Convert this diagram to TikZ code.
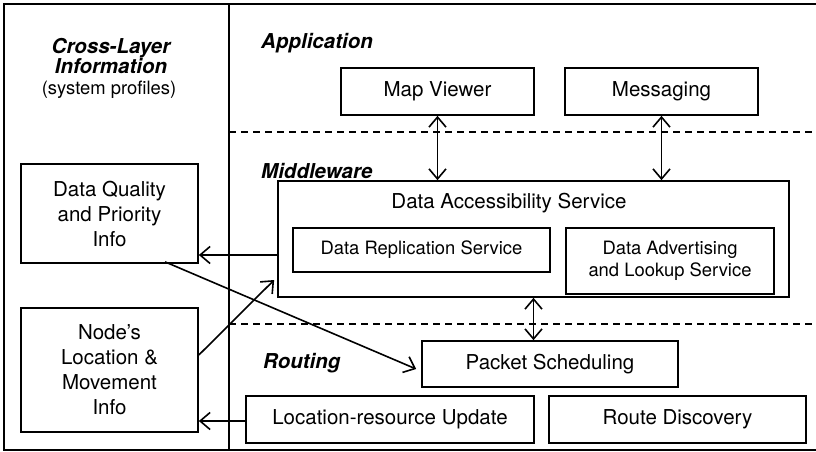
\documentclass[tikz,border=0pt]{standalone}
\usepackage{fontspec}
\setmainfont{TeX Gyre Heros}
\usetikzlibrary{arrows.meta}
\tikzset{
  box/.style={draw, line width=1.7pt, inner sep=0pt, align=center, font=\fontsize{20.5}{25}\selectfont},
  sbox/.style={box, font=\fontsize{18.4}{22}\selectfont},
  layer/.style={anchor=west, inner sep=0pt, font=\fontsize{20.5}{25}\selectfont\bfseries\itshape},
  conn/.style={line width=1.6pt, -{Straight Barb[length=10pt,width=17pt,line width=1.6pt]}},
  biconn/.style={line width=1.6pt, {Straight Barb[length=10pt,width=17pt,line width=1.6pt]}-{Straight Barb[length=10pt,width=17pt,line width=1.6pt]}},
  sep/.style={line width=1.6pt, dash pattern=on 7pt off 5pt},
}
\begin{document}
\begin{tikzpicture}[x=1pt,y=-1pt]
\useasboundingbox (0,0) rectangle (816,452);
% frame
\draw[line width=1.7pt] (4,4) rectangle (822,450);
\coordinate (divtop) at (229,4);
\coordinate (divbot) at (229,450);
\draw[line width=1.7pt] (divtop) -- (divbot);
\coordinate (d1a) at (229,132);
\coordinate (d1b) at (822,132);
\coordinate (d2a) at (229,324);
\coordinate (d2b) at (822,324);
\draw[sep] (d1a) -- (d1b);
\draw[sep] (d2a) -- (d2b);

% cross-layer heading
\node[inner sep=0pt, align=center] (cltitle) at (111,56) {\fontsize{20.5}{25}\selectfont\bfseries\itshape Cross-Layer\\ \fontsize{20.5}{25}\selectfont\bfseries\itshape Information};
\node[inner sep=0pt, font=\fontsize{18.4}{22}\selectfont] (clsub) at (109,90) {(system profiles)};

% layer labels
\node[layer] (app) at (261,43) {Application};
\node[layer] (mid) at (261,171) {Middleware};
\node[layer] (rout) at (263,363) {Routing};

% boxes
\node[box, minimum width=193pt, minimum height=47pt] (mv) at (437.5,91.5) {Map Viewer};
\node[box, minimum width=193pt, minimum height=47pt] (msg) at (661.5,91.5) {Messaging};
\node[box, minimum width=511pt, minimum height=116pt] (das) at (533.5,239) {};
\node[inner sep=0pt, font=\fontsize{20.5}{25}\selectfont] (dastitle) at (509,203) {Data Accessibility Service};
\node[sbox, minimum width=257pt, minimum height=44pt] (drs) at (421.5,250) {Data Replication Service};
\node[sbox, minimum width=208pt, minimum height=66pt] (dals) at (670,261) {Data Advertising\\and Lookup Service};
\node[box, minimum width=256pt, minimum height=46pt] (ps) at (550,364) {Packet Scheduling};
\node[box, minimum width=288pt, minimum height=47pt] (lru) at (390,419.5) {Location-resource Update};
\node[box, minimum width=257pt, minimum height=47pt] (rd) at (677.5,419.5) {Route Discovery};
\node[box, minimum width=177pt, minimum height=99pt] (dq) at (109.5,213.5) {Data Quality\\and Priority\\Info};
\node[box, minimum width=177pt, minimum height=124pt] (nl) at (109.5,370) {Node’s\\Location \&\\Movement\\Info};

% connectors
\draw[biconn] (mv.south) -- (mv.south |- das.north);
\draw[biconn] (msg.south) -- (msg.south |- das.north);
\draw[biconn] (das.south) -- (das.south |- ps.north);
\draw[conn] ([yshift=-16pt]das.west) -- ([yshift=-16pt]das.west -| dq.east);
\draw[conn] ([xshift=55.5pt,yshift=2pt]dq.south) -- ([xshift=-5pt,yshift=-5pt]ps.west);
\draw[conn] ([yshift=15pt]nl.east) -- ([xshift=-3pt,yshift=-41pt]das.west);
\draw[conn] ([yshift=-1.5pt]lru.west) -- ([yshift=-1.5pt]lru.west -| nl.east);
\end{tikzpicture}
\end{document}
